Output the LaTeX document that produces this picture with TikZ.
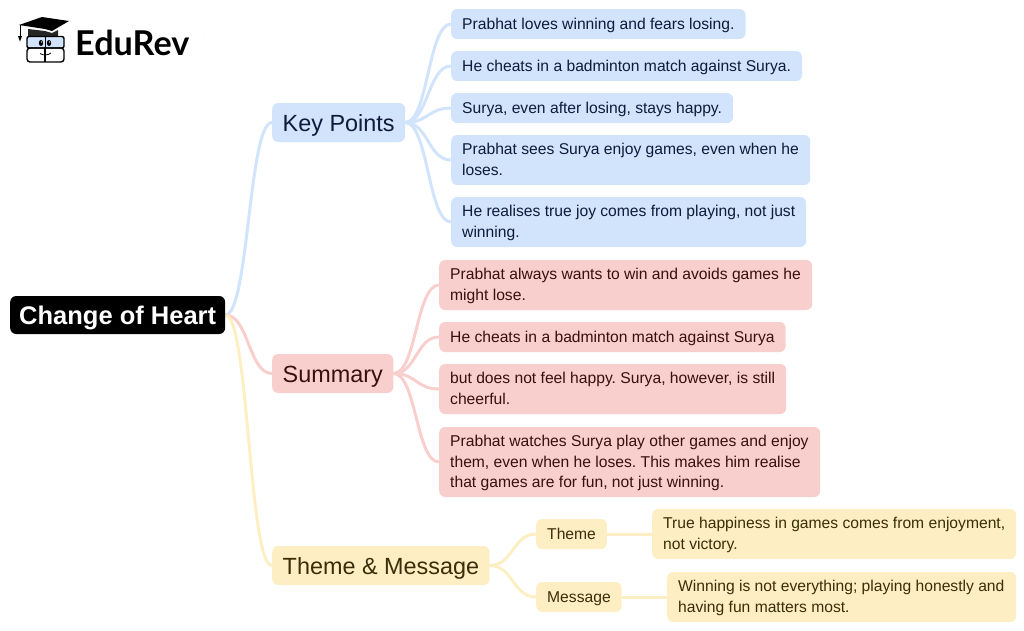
\documentclass[tikz,border=0pt]{standalone}
\usepackage{fontspec}
\setmainfont{Liberation Sans}
\newfontfamily\logofont{Lato}
\usetikzlibrary{backgrounds,calc}
\definecolor{blueF}{HTML}{D2E3FC}
\definecolor{blueT}{HTML}{0E1B3A}
\definecolor{redF}{HTML}{F8CFCD}
\definecolor{redT}{HTML}{3A0F0F}
\definecolor{yelF}{HTML}{FDEFC3}
\definecolor{yelT}{HTML}{3A2E0A}
\frenchspacing
\tikzset{
  x=1pt,y=-1pt,
  box/.style={rounded corners=6pt,inner xsep=11pt,inner ysep=0pt,anchor=west,align=flush left,font=\fontsize{15.65}{20.6}\selectfont},
  bluebox/.style={box,fill=blueF,text=blueT},
  redbox/.style={box,fill=redF,text=redT},
  yelbox/.style={box,fill=yelF,text=yelT},
  oneline/.style={minimum height=30pt,text height=13pt,text depth=3pt},
  twoline/.style={minimum height=50pt,text height=13pt,text depth=23.6pt},
  threeline/.style={minimum height=70pt,text height=13pt,text depth=44.2pt},
  big/.style={inner xsep=10.5pt,font=\fontsize{23.4}{28}\selectfont,minimum height=39pt,text height=20pt,text depth=3pt},
  lnk/.style={line width=3pt,to path={let \p1=(\tikztostart),\p2=(\tikztotarget) in .. controls ({0.5*\x1+0.5*\x2},\y1) and ({0.5*\x1+0.5*\x2},\y2) .. (\p2)}},
}
\begin{document}
\begin{tikzpicture}
\useasboundingbox (0,0) rectangle (1024,630);
% logo
\foreach \i in {0,...,28} \foreach \j in {0,...,9}
  \fill[black!5] ({8+7*\i},{11+7*\j}) circle (0.5);
\fill[black] (19,25) -- (42,17) -- (69,21) -- (52,31) -- (45,29) -- cycle;
\fill[black!85] (28,29) -- (45,31) -- (52,33) -- (58,30) -- (58,37) -- (28,37) -- cycle;
\draw[black,line width=1pt] (20,25) -- (20,37);
\fill[black] (18,36) -- (22,36) -- (20,41.5) -- cycle;
\draw[black,line width=1.4pt,fill=blueF,rounded corners=2pt] (27,36.5) rectangle (64,48);
\draw[black,line width=1.4pt,rounded corners=3pt] (27,48) rectangle (64,62);
\draw[black,line width=1.4pt] (45,47) -- (45,62);
\draw[black,line width=1pt] (45,37) -- (45,47);
\fill[black] (41,43) ellipse (2.2 and 3) (49,43) ellipse (2.2 and 3);
\fill[white] (41.6,42) circle (0.7) (49.6,42) circle (0.7);
\draw[black,line width=0.8pt] (40,53.5) .. controls (43,55.5) and (48,55.5) .. (51,53);
\node[anchor=west,inner sep=0pt,font=\logofont\bfseries\fontsize{34.2}{34}\selectfont,text=black] (logo) at (75,43) {EduRev};
% nodes
\node[rounded corners=6pt,fill=black,text=white,anchor=west,inner xsep=9pt,inner ysep=0pt,minimum height=38pt,text height=21pt,text depth=3pt,font=\bfseries\fontsize{25.5}{28}\selectfont] (root) at (10,315) {Change of Heart};
\node[bluebox,big] (kp) at (272,122.5) {Key Points};
\node[redbox,big] (su) at (272,373.5) {Summary};
\node[yelbox,big] (tm) at (272,565.5) {Theme \& Message};
\node[bluebox,oneline] (k1) at (451,24) {Prabhat loves winning and fears losing.};
\node[bluebox,oneline] (k2) at (451,66) {He cheats in a badminton match against Surya.};
\node[bluebox,oneline] (k3) at (451,108) {Surya, even after losing, stays happy.};
\node[bluebox,twoline,text width=337pt] (k4) at (451,160) {Prabhat sees Surya enjoy games, even when he\\loses.};
\node[bluebox,twoline,text width=333pt] (k5) at (451,222) {He realises true joy comes from playing, not just\\winning.};
\node[redbox,twoline,text width=351pt] (s1) at (439,285) {Prabhat always wants to win and avoids games he\\might lose.};
\node[redbox,oneline] (s2) at (439,337) {He cheats in a badminton match against Surya};
\node[redbox,twoline,text width=325pt] (s3) at (439,389) {but does not feel happy. Surya, however, is still\\cheerful.};
\node[redbox,threeline,text width=359pt] (s4) at (439,462) {Prabhat watches Surya play other games and enjoy\\them, even when he loses. This makes him realise\\that games are for fun, not just winning.};
\node[yelbox,oneline] (th) at (536,534) {Theme};
\node[yelbox,oneline] (me) at (536,597) {Message};
\node[yelbox,twoline,text width=342pt] (t1) at (652,534) {True happiness in games comes from enjoyment,\\not victory.};
\node[yelbox,twoline,text width=327pt] (m1) at (667,597) {Winning is not everything; playing honestly and\\having fun matters most.};
% connectors
\begin{scope}[on background layer]
\draw[blueF,lnk] (root.east) to (kp.west);
\draw[redF,lnk] (root.east) to (su.west);
\draw[yelF,lnk] (root.east) to (tm.west);
\foreach \kid in {k1,k2,k3,k4,k5} \draw[blueF,lnk] (kp.east) to (\kid.west);
\foreach \kid in {s1,s2,s3,s4} \draw[redF,lnk] (su.east) to (\kid.west);
\foreach \kid in {th,me} \draw[yelF,lnk] (tm.east) to (\kid.west);
\draw[yelF,lnk] (th.east) to (t1.west);
\draw[yelF,lnk] (me.east) to (m1.west);
\end{scope}
\end{tikzpicture}
\end{document}
